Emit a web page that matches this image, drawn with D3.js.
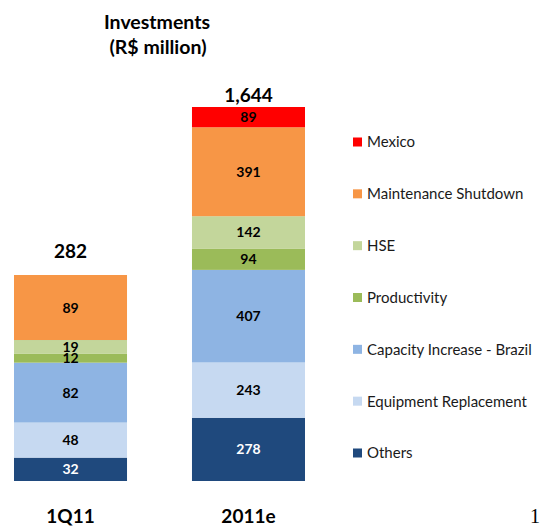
<!DOCTYPE html>
<meta charset="utf-8">
<script src="https://d3js.org/d3.v7.min.js"></script>
<style>
  body { margin: 0; background: #fff; }
  text { font-family: Lato, "Open Sans", sans-serif; }
</style>
<div id="chart"></div>
<script>
// data
const periods = ["1Q11", "2011e"];
const totals = [282, 1644];
const series = ["Others", "Equipment Replacement", "Capacity Increase - Brazil", "Productivity", "HSE", "Maintenance Shutdown", "Mexico"];
const values1Q11 = [32, 48, 82, 12, 19, 89, 0];
const values2011e = [278, 243, 407, 94, 142, 391, 89];
const colors = ["#1f497d", "#c6d9f1", "#8eb4e3", "#9bbb59", "#c3d69b", "#f79646", "#ff0000"];

const width = 543, height = 527;
const bottom = 481;
// each bar was drawn on its own scale in the source
const barTops = [275, 107];
const totalGap = [24, 12];

const svg = d3.select("#chart").append("svg")
  .attr("width", width)
  .attr("height", height);

const x = d3.scaleBand()
  .domain(periods)
  .range([14, 305])
  .paddingInner(0.365)
  .paddingOuter(0);

const color = d3.scaleOrdinal().domain(series).range(colors);

const rows = [values1Q11, values2011e];

periods.forEach((p, i) => {
  const y = d3.scaleLinear().domain([0, totals[i]]).range([bottom, barTops[i]]);
  const stacked = [];
  let acc = 0;
  series.forEach((s, j) => {
    const v = rows[i][j];
    stacked.push({key: s, v: v, y0: acc, y1: acc + v});
    acc += v;
  });
  const g = svg.append("g");
  g.selectAll("rect")
    .data(stacked.filter(d => d.v > 0))
    .join("rect")
      .attr("x", x(p))
      .attr("width", x.bandwidth())
      .attr("y", d => y(d.y1))
      .attr("height", d => y(d.y0) - y(d.y1))
      .style("fill", d => color(d.key));
  g.selectAll("text.val")
    .data(stacked.filter(d => d.v > 0))
    .join("text")
      .attr("class", "val")
      .attr("x", x(p) + x.bandwidth() / 2)
      .attr("y", d => (y(d.y0) + y(d.y1)) / 2)
      .attr("dy", "0.36em")
      .attr("text-anchor", "middle")
      .style("font-size", "14px")
      .style("font-weight", "bold")
      .style("fill", d => d.key == "Others" ? "#fff" : "#000")
      .text(d => d.v);
  // total on top
  svg.append("text")
    .attr("x", x(p) + x.bandwidth() / 2)
    .attr("y", y(totals[i]) - totalGap[i])
    .attr("dy", "0.36em")
    .attr("text-anchor", "middle")
    .style("font-size", "19px")
    .style("font-weight", "bold")
    .text(d3.format(",")(totals[i]));
  // category label
  svg.append("text")
    .attr("x", x(p) + x.bandwidth() / 2)
    .attr("y", 516)
    .attr("dy", "0.36em")
    .attr("text-anchor", "middle")
    .style("font-size", "19px")
    .style("font-weight", "bold")
    .text(p);
});

// title
svg.append("text")
  .attr("x", 157).attr("y", 22).attr("dy", "0.36em")
  .attr("text-anchor", "middle")
  .style("font-size", "19.5px").style("font-weight", "bold")
  .text("Investments");
svg.append("text")
  .attr("x", 158).attr("y", 47).attr("dy", "0.36em")
  .attr("text-anchor", "middle")
  .style("font-size", "19.5px").style("font-weight", "bold")
  .text("(R$ million)");

// legend, top to bottom
const legendItems = series.slice().reverse();
const ly = d3.scalePoint().domain(legendItems).range([142, 453]);
const legend = svg.append("g").selectAll("g")
  .data(legendItems)
  .join("g")
    .attr("transform", d => `translate(353, ${ly(d)})`);
legend.append("rect")
  .attr("x", 0).attr("y", -4.5)
  .attr("width", 9).attr("height", 9)
  .style("fill", d => color(d));
legend.append("text")
  .attr("x", 14).attr("y", 0).attr("dy", "0.36em")
  .style("font-size", "15px")
  .style("fill", "#1a1a1a")
  .text(d => d);

// page number
svg.append("text")
  .attr("x", 535).attr("y", 516).attr("dy", "0.36em")
  .attr("text-anchor", "middle")
  .style("font-family", "'Liberation Serif', serif")
  .style("font-size", "20px")
  .text("1");
</script>
